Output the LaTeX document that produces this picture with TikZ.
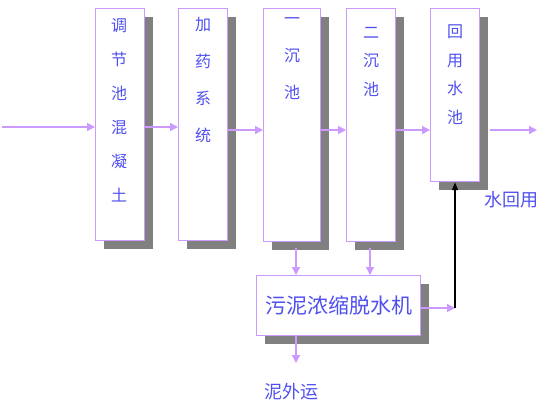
\documentclass[tikz,border=0pt]{standalone}
\usepackage{fontspec}
\newfontfamily\cjk{Noto Sans CJK SC}
\usetikzlibrary{arrows.meta,shadows}
\definecolor{boxc}{RGB}{204,153,255}
\definecolor{txtc}{RGB}{80,80,240}
\definecolor{shadc}{RGB}{128,128,128}
\tikzset{
  box/.style={draw=boxc, fill=white, line width=1.2pt, inner sep=0pt,
    general shadow={fill=shadc, shadow xshift=8pt, shadow yshift=-8pt}},
  coltxt/.style={text=txtc, inner sep=0pt, align=center, anchor=north},
  lbl/.style={text=txtc, inner sep=0pt, font=\cjk\fontsize{18}{20}\selectfont},
  arr/.style={draw=boxc, line width=1.3pt, -{Triangle[length=8pt,width=8pt]}},
  blk/.style={draw=black, line width=1.3pt, -{Triangle[length=8pt,width=6pt]}}
}
\begin{document}
\begin{tikzpicture}[x=1pt,y=-1pt]
\useasboundingbox (0,0) rectangle (560,405);
% boxes
\node[box, anchor=north west, minimum width=49pt, minimum height=232pt] (b1) at (95,8) {};
\node[box, anchor=north west, minimum width=49pt, minimum height=232pt] (b2) at (178,8) {};
\node[box, anchor=north west, minimum width=57pt, minimum height=233pt] (b3) at (263,8) {};
\node[box, anchor=north west, minimum width=49pt, minimum height=233pt] (b4) at (346,8) {};
\node[box, anchor=north west, minimum width=49pt, minimum height=173pt] (b5) at (430,8) {};
\node[box, anchor=north west, minimum width=164pt, minimum height=60pt] (s) at (256,275) {};
% texts
\node[coltxt, font=\cjk\fontsize{16}{34}\selectfont] (t1) at (119,18) {调\\节\\池\\混\\凝\\土};
\node[coltxt, font=\cjk\fontsize{16}{37}\selectfont] (t2) at (203,17) {加\\药\\系\\统};
\node[coltxt, font=\cjk\fontsize{16}{37}\selectfont] (t3) at (292,17) {一\\沉\\池};
\node[coltxt, font=\cjk\fontsize{16}{28.5}\selectfont] (t4) at (371,27) {二\\沉\\池};
\node[coltxt, font=\cjk\fontsize{16}{28.5}\selectfont] (t5) at (455,25) {回\\用\\水\\池};
\node[text=txtc, inner sep=0pt, font=\cjk\fontsize{21}{24}\selectfont] (ts) at (339,305) {污泥浓缩脱水机};
\node[lbl] (lw) at (511,200) {水回用};
\node[lbl] (lm) at (291,392) {泥外运};
% coordinates
\coordinate (in) at (2,127);
\coordinate (out) at (537,130);
\coordinate (j) at (455,308);
\coordinate (sd) at (296,363);
\coordinate (d3) at (296,248);
\coordinate (d4) at (370,248);
% connectors
\draw[arr] (in) -- (in -| b1.west);
\draw[arr] (b1.east |- in) -- (b2.west |- in);
\draw[arr] (b2.east |- out) -- (b3.west |- out);
\draw[arr] (b3.east |- out) -- (b4.west |- out);
\draw[arr] (b4.east |- out) -- (b5.west |- out);
\draw[arr] ([xshift=10pt]b5.east |- out) -- (out);
\draw[arr] (d3) -- (d3 |- s.north);
\draw[arr] (d4) -- (d4 |- s.north);
\draw[arr] (s.south -| sd) -- (sd);
\draw[arr] (s.east |- j) -- (j);
\draw[blk] (j) -- (j |- b5.south);
\end{tikzpicture}
\end{document}
